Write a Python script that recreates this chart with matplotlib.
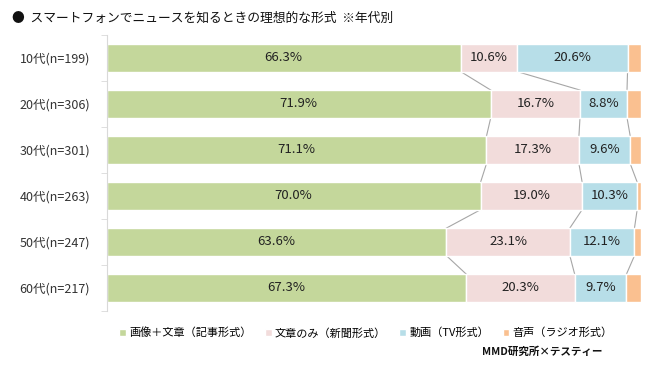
import matplotlib
matplotlib.use("Agg")
import matplotlib.pyplot as plt
import numpy as np

plt.rcParams['font.family'] = ['Noto Sans CJK JP', 'DejaVu Sans']

# data
groups = ["10代(n=199)", "20代(n=306)", "30代(n=301)", "40代(n=263)", "50代(n=247)", "60代(n=217)"]
series_names = ["画像＋文章（記事形式）", "文章のみ（新聞形式）", "動画（TV形式）", "音声（ラジオ形式）"]
image_text = [66.3, 71.9, 71.1, 70.0, 63.6, 67.3]
text_only = [10.6, 16.7, 17.3, 19.0, 23.1, 20.3]
video = [20.6, 8.8, 9.6, 10.3, 12.1, 9.7]
audio = [2.5, 2.6, 2.0, 0.7, 1.2, 2.7]
colors = ["#C4D79B", "#F2DCDB", "#B7DEE8", "#FAC090"]

values = np.array([image_text, text_only, video, audio])
totals = values.sum(axis=0)
pct = values / totals * 100

fig = plt.figure(figsize=(6.5, 3.75), dpi=100)
ax = fig.add_axes([0.164, 0.171, 0.822, 0.736])

y = np.arange(len(groups))
height = 0.6
left = np.zeros(len(groups))
for i, name in enumerate(series_names):
    ax.barh(y, pct[i], left=left, height=height, color=colors[i],
            edgecolor="white", linewidth=1, label=name, zorder=2)
    if i < 3:
        for j in range(len(groups)):
            ax.text(left[j] + pct[i][j] / 2, y[j], f"{values[i][j]:.1f}%",
                    ha="center", va="center", fontsize=9.5, color="#222222", zorder=3)
    left = left + pct[i]

# series lines between bars
cum = np.cumsum(pct, axis=0)
for k in range(3):
    for j in range(len(groups) - 1):
        ax.plot([cum[k][j], cum[k][j + 1]], [y[j] + height / 2, y[j + 1] - height / 2],
                color="#A6A6A6", linewidth=0.8, zorder=1)

ax.set_xlim(0, 100)
ax.set_ylim(len(groups) - 0.5, -0.5)
ax.set_yticks(y)
ax.set_yticklabels(groups, fontsize=9, color="#333333")
ax.set_yticks(np.arange(len(groups) + 1) - 0.5, minor=True)
ax.tick_params(axis="y", which="major", length=0, pad=12)
ax.tick_params(axis="y", which="minor", length=4, color="#D9D9D9")
ax.set_xticks([])
for s in ["top", "right", "bottom"]:
    ax.spines[s].set_visible(False)
ax.spines["left"].set_color("#D9D9D9")

fig.text(0.018, 0.952, "●  スマートフォンでニュースを知るときの理想的な形式  ※年代別",
         fontsize=9.2, va="center", ha="left", color="#111111")

handles, labels = ax.get_legend_handles_labels()
fig.legend(handles, labels, loc="center", bbox_to_anchor=(0.563, 0.112), ncol=4,
           frameon=False, fontsize=8, handlelength=0.6, handleheight=0.6,
           handletextpad=0.3, columnspacing=1.2)

fig.text(0.926, 0.061, "MMD研究所×テスティー", fontsize=7.6, fontweight="bold",
         ha="right", va="center", color="#111111")

fig.savefig("out.png", dpi=100)
